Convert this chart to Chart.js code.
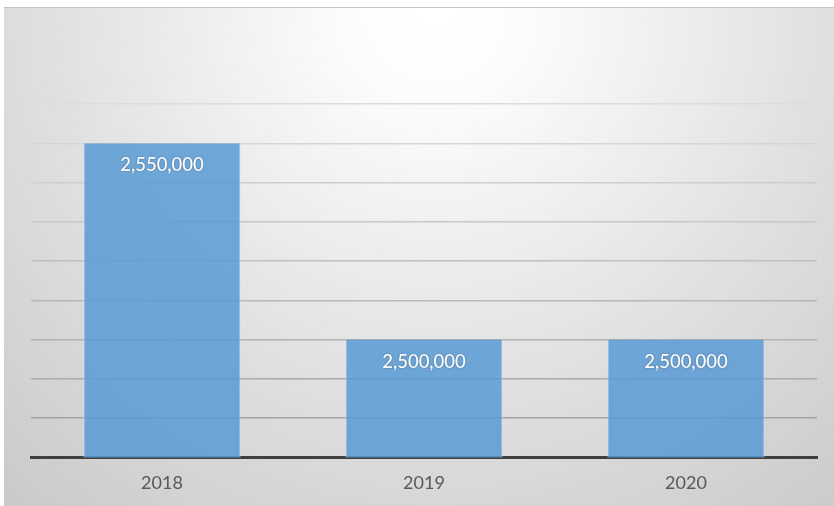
<!DOCTYPE html>
<html>
<head>
<meta charset="utf-8">
<script src="https://cdn.jsdelivr.net/npm/chart.js@4"></script>
<style>
  html, body { margin: 0; padding: 0; background: #ffffff; }
  #box {
    position: absolute; left: 4px; top: 7px; width: 830px; height: 498px;
    border-top: 1px solid #c4c4c4;
  }
</style>
</head>
<body>
<div id="box"><canvas id="bars"></canvas></div>
<script>
const years = ['2018', '2019', '2020'];
const amounts = [2550000, 2500000, 2500000];
const axisMin = 2470000;
const axisMax = 2560000;
const axisStep = 10000;

// Excel style radial background
const backdrop = {
  id: 'backdrop',
  beforeDraw(chart) {
    const {ctx, width, height} = chart;
    const g = ctx.createRadialGradient(width * 0.52, 0, 0, width * 0.52, 0, 660);
    g.addColorStop(0, '#ffffff');
    g.addColorStop(0.15, '#fbfbfb');
    g.addColorStop(0.6, '#dfdfdf');
    g.addColorStop(1, '#c9c9c9');
    ctx.save();
    ctx.fillStyle = g;
    ctx.fillRect(0, 0, width, height);
    ctx.restore();
  }
};

// value labels inside the top of each bar
const barLabels = {
  id: 'barLabels',
  afterDatasetsDraw(chart) {
    const {ctx} = chart;
    const meta = chart.getDatasetMeta(0);
    ctx.save();
    ctx.font = '500 18.5px Lato';
    ctx.fillStyle = '#ffffff';
    ctx.textAlign = 'center';
    ctx.textBaseline = 'middle';
    ctx.shadowColor = 'rgba(0,0,0,0.35)';
    ctx.shadowBlur = 2;
    meta.data.forEach((bar, i) => {
      ctx.fillText(amounts[i].toLocaleString('en-US'), bar.x, bar.y + 22);
    });
    ctx.restore();
  }
};

new Chart(document.getElementById('bars'), {
  type: 'bar',
  data: {
    labels: years,
    datasets: [{
      data: amounts,
      backgroundColor: 'rgba(91,155,213,0.86)',
      borderColor: 'rgba(200,225,248,0.8)',
      borderWidth: {left: 1, right: 1, top: 0, bottom: 0},
      borderSkipped: false,
      categoryPercentage: 1,
      barPercentage: 0.6
    }]
  },
  options: {
    responsive: true,
    maintainAspectRatio: false,
    animation: false,
    layout: {padding: {left: 27, right: 17, top: 96, bottom: -3}},
    plugins: {legend: {display: false}, tooltip: {enabled: false}},
    scales: {
      x: {
        grid: {display: false, drawTicks: false},
        border: {display: true, color: '#3f3f3f', width: 3},
        ticks: {color: '#595959', font: {family: 'Lato', size: 18}, padding: 15}
      },
      y: {
        min: axisMin,
        max: axisMax,
        grid: {
          drawTicks: false,
          lineWidth: 1.5,
          color: c => {
            const t = c.index / 9;
            const v = Math.round(0x9c + (0xdc - 0x9c) * t);
            return 'rgb(' + v + ',' + v + ',' + v + ')';
          }
        },
        border: {display: false},
        ticks: {display: false, stepSize: axisStep}
      }
    }
  },
  plugins: [backdrop, barLabels]
});
</script>
</body>
</html>
